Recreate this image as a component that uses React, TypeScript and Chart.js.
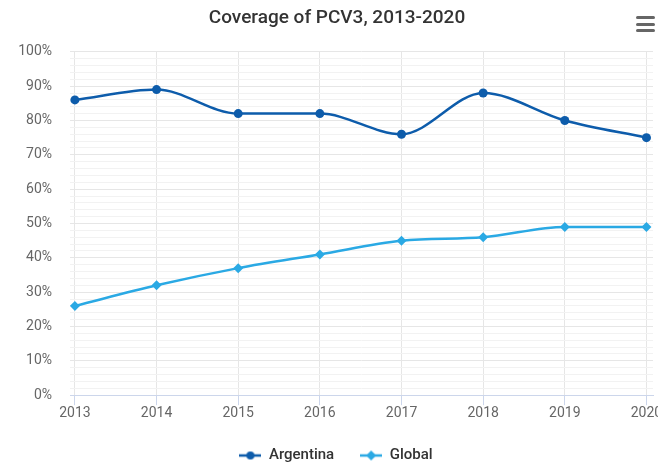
import React, { useEffect, useRef } from "react";
import { Chart, registerables } from "chart.js";

Chart.register(...registerables);

const years = [2013, 2014, 2015, 2016, 2017, 2018, 2019, 2020];
const argentina = [86, 89, 82, 82, 76, 88, 80, 75];
const global = [26, 32, 37, 41, 45, 46, 49, 49];
const seriesNames = ["Argentina", "Global"];
const titleText = "Coverage of PCV3, 2013-2020";

const ARG_COLOR = "#0d5cab";
const GLB_COLOR = "#2aa9e4";

function legendSymbol(color: string, style: "circle" | "diamond") {
  const c = document.createElement("canvas");
  c.width = 22;
  c.height = 12;
  const ctx = c.getContext("2d")!;
  ctx.strokeStyle = color;
  ctx.lineWidth = 2.5;
  ctx.beginPath();
  ctx.moveTo(0, 6);
  ctx.lineTo(22, 6);
  ctx.stroke();
  ctx.fillStyle = color;
  ctx.beginPath();
  if (style === "circle") {
    ctx.arc(11, 6, 4, 0, Math.PI * 2);
  } else {
    ctx.moveTo(11, 1);
    ctx.lineTo(16, 6);
    ctx.lineTo(11, 11);
    ctx.lineTo(6, 6);
    ctx.closePath();
  }
  ctx.fill();
  return c;
}

// Draws the title text slightly right of centre, as in the reference
const offsetTitle = {
  id: "offsetTitle",
  afterLayout(chart: any) {
    if (chart.legend) {
      chart.legend.left += 7;
      chart.legend.right += 7;
    }
  },
  afterDraw(chart: any) {
    const tb = chart.titleBlock;
    if (!tb) return;
    const ctx = chart.ctx;
    ctx.save();
    ctx.font = "500 19px Roboto";
    ctx.fillStyle = "#333333";
    ctx.textAlign = "center";
    ctx.textBaseline = "middle";
    const cy = tb.top + tb.options.padding.top + (19 * 1.2) / 2;
    ctx.fillText(titleText, 337, cy);
    ctx.restore();
  },
};

export default function App() {
  const ref = useRef<HTMLCanvasElement | null>(null);

  useEffect(() => {
    if (!ref.current) return;
    const argSym = legendSymbol(ARG_COLOR, "circle");
    const glbSym = legendSymbol(GLB_COLOR, "diamond");
    const chart = new Chart(ref.current, {
      type: "line",
      plugins: [offsetTitle],
      data: {
        datasets: [
          {
            label: seriesNames[0],
            data: years.map((y, i) => ({ x: y, y: argentina[i] })),
            borderColor: ARG_COLOR,
            backgroundColor: ARG_COLOR,
            borderWidth: 2.5,
            pointRadius: 4.5,
            pointStyle: "circle",
            pointBorderWidth: 0,
            cubicInterpolationMode: "monotone",
          },
          {
            label: seriesNames[1],
            data: years.map((y, i) => ({ x: y, y: global[i] })),
            borderColor: GLB_COLOR,
            backgroundColor: GLB_COLOR,
            borderWidth: 2.5,
            pointRadius: 5,
            pointStyle: "rectRot",
            pointBorderWidth: 0,
            cubicInterpolationMode: "monotone",
          },
        ],
      },
      options: {
        responsive: false,
        animation: false,
        layout: { padding: { left: 0, right: 0, top: 0, bottom: -8 } },
        plugins: {
          title: {
            display: true,
            text: titleText,
            color: "rgba(0,0,0,0)",
            font: { family: "Roboto", size: 19, weight: "500" },
            padding: { top: 7, bottom: 22 },
          },
          tooltip: { enabled: false },
          legend: {
            position: "bottom",
            labels: {
              usePointStyle: true,
              pointStyleWidth: 22,
              color: "#333333",
              font: { family: "Roboto", size: 15, weight: "500" },
              padding: 26,
              generateLabels: () => [
                {
                  text: seriesNames[0],
                  pointStyle: argSym,
                  fillStyle: ARG_COLOR,
                  strokeStyle: ARG_COLOR,
                  lineWidth: 0,
                  datasetIndex: 0,
                  fontColor: "#333333",
                },
                {
                  text: seriesNames[1],
                  pointStyle: glbSym,
                  fillStyle: GLB_COLOR,
                  strokeStyle: GLB_COLOR,
                  lineWidth: 0,
                  datasetIndex: 1,
                  fontColor: "#333333",
                },
              ],
            },
          },
        },
        scales: {
          x: {
            type: "linear",
            min: 2012.94,
            max: 2020.08,
            ticks: {
              stepSize: 1,
              includeBounds: false,
              autoSkip: false,
              maxRotation: 0,
              color: "#666666",
              padding: 0,
              font: { family: "Roboto", size: 14 },
              callback: (v: any) => String(v),
            },
            grid: {
              color: "#e6e6e6",
              tickColor: "#ccd6eb",
              tickLength: 10,
              lineWidth: 1,
            },
            border: { display: true, color: "#ccd6eb", width: 1 },
            afterFit: (s: any) => {
              s.paddingLeft = 0;
              s.paddingRight = 0;
            },
          },
          y: {
            min: 0,
            max: 100,
            ticks: {
              stepSize: 2,
              autoSkip: false,
              color: "#666666",
              padding: 18,
              font: { family: "Roboto", size: 14 },
              callback: (v: any) => (Number(v) % 10 === 0 ? v + "%" : ""),
            },
            grid: {
              drawTicks: false,
              color: (ctx: any) =>
                ctx.tick && ctx.tick.value % 10 === 0 ? "#e6e6e6" : "#f2f2f2",
              lineWidth: 1,
            },
            border: { display: false },
            afterFit: (s: any) => {
              s.width = 70;
            },
          },
        },
      },
    });
    return () => chart.destroy();
  }, []);

  const bar: React.CSSProperties = {
    position: "absolute",
    left: 636,
    width: 19,
    height: 3,
    borderRadius: 1.5,
    background: "#666666",
  };

  return (
    <div style={{ position: "absolute", left: 0, top: 0, width: 658, height: 465, background: "#ffffff" }}>
      <canvas ref={ref} width={658} height={465} style={{ display: "block" }} />
      <div style={{ ...bar, top: 16 }} />
      <div style={{ ...bar, top: 23 }} />
      <div style={{ ...bar, top: 29 }} />
    </div>
  );
}
